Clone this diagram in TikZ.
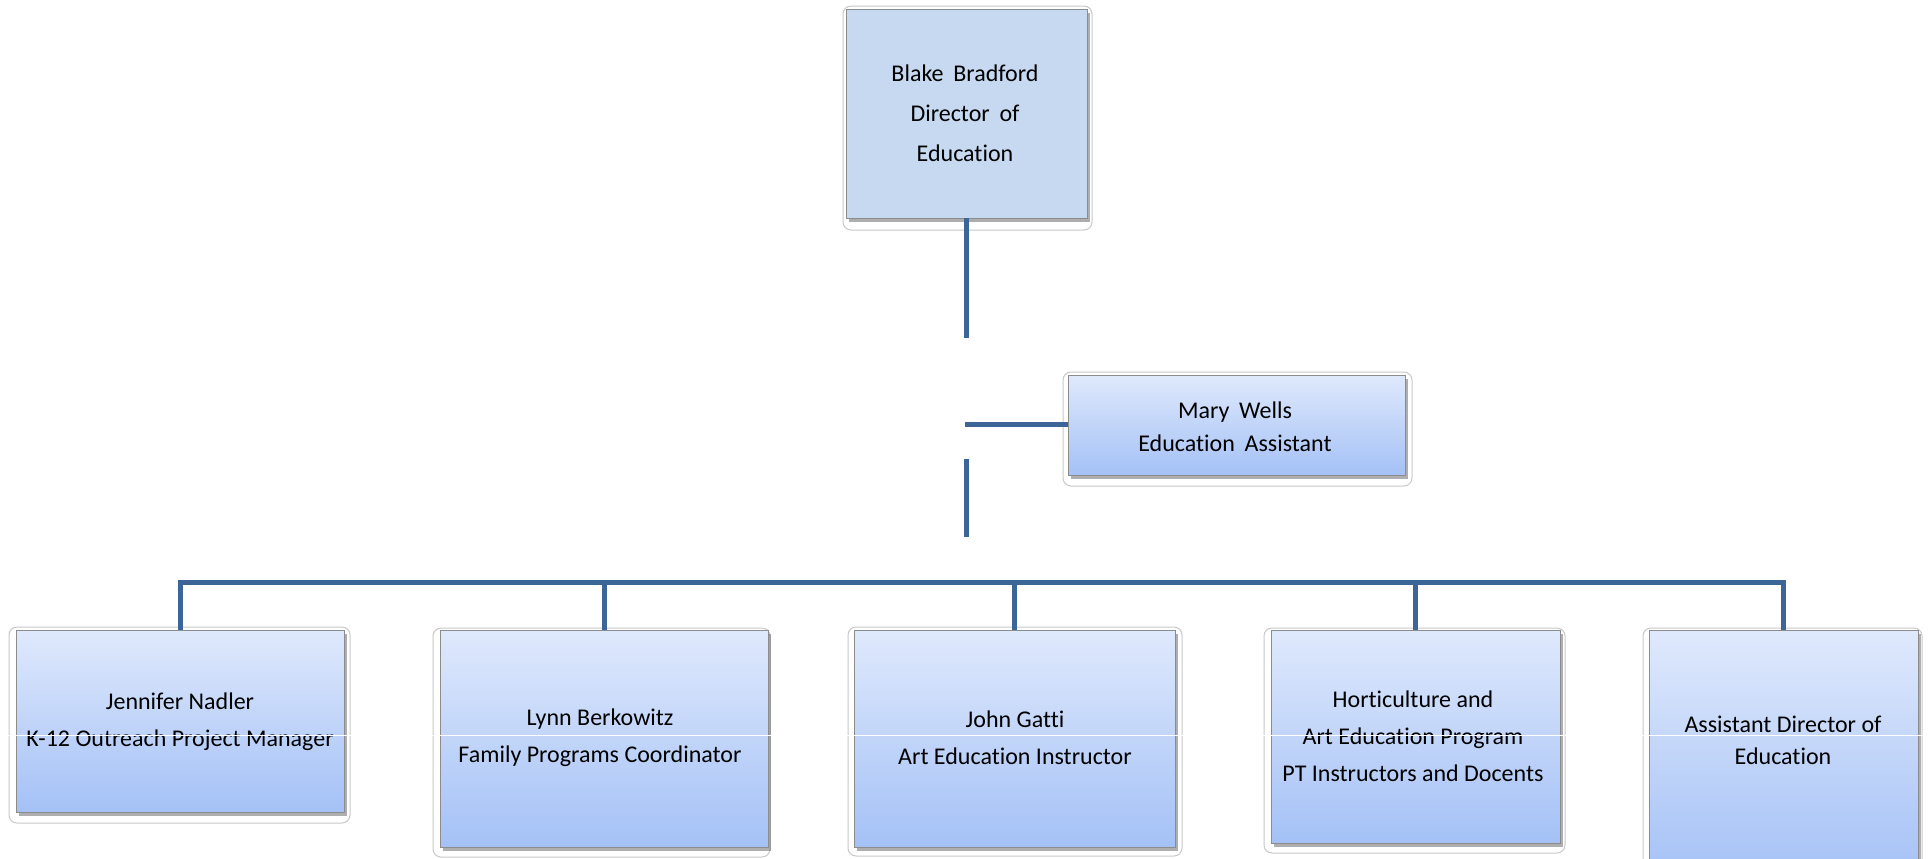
\documentclass[tikz,border=0pt]{standalone}
\usepackage{fontspec}
\setmainfont{Carlito}[Ligatures={NoCommon}]
\usetikzlibrary{shadows}
\definecolor{linec}{RGB}{60,101,152}
\definecolor{topfill}{RGB}{198,217,241}
\definecolor{gtop}{RGB}{223,233,252}
\definecolor{gbot}{RGB}{164,193,246}
\newcommand{\wsp}{\hspace{0.18em} }
\tikzset{
  conn/.style={draw=linec, line width=2.5pt},
  frame/.style={draw=black!22, line width=0.5pt, rounded corners=4pt},
  card/.style={rectangle, draw=black!45, line width=0.4pt, top color=gtop, bottom color=gbot, inner sep=0pt,
    drop shadow={shadow xshift=1.5pt, shadow yshift=-2pt, opacity=0.45, fill=black!70}},
  headcard/.style={rectangle, draw=black!45, line width=0.4pt, fill=topfill, inner sep=0pt,
    drop shadow={shadow xshift=1.5pt, shadow yshift=-2pt, opacity=0.45, fill=black!70}},
  lbl/.style={align=center, font=\fontsize{12}{18.5}\selectfont, inner sep=0pt},
}
\begin{document}
\begin{tikzpicture}[x=0.5pt,y=-0.5pt]
\useasboundingbox (0,0) rectangle (1929,858);
\clip (0,0) rectangle (1929,858);

% frames (outer light outlines)
\draw[frame] (843,6) rectangle (1092,230);
\draw[frame] (1063,372) rectangle (1412,486);
\draw[frame] (9,627) rectangle (350,823);
\draw[frame] (433,628) rectangle (770,857);
\draw[frame] (848,627) rectangle (1182,856);
\draw[frame] (1264,628) rectangle (1565,853);
\draw[frame] (1643,628) rectangle (1922,880);

% boxes
\node[headcard, minimum width=120.5pt, minimum height=104.5pt] (top) at (966.5,113.5) {};
\node[card, minimum width=168.5pt, minimum height=50pt] (mary) at (1236.5,425) {};
\node[card, minimum width=164pt, minimum height=91pt] (b1) at (180,721) {};
\node[card, minimum width=164pt, minimum height=108.5pt] (b2) at (604,738.5) {};
\node[card, minimum width=160.5pt, minimum height=108.5pt] (b3) at (1014.5,738.5) {};
\node[card, minimum width=144.5pt, minimum height=106.5pt] (b4) at (1415.5,736.5) {};
\node[card, minimum width=134.5pt, minimum height=125pt] (b5) at (1783.5,755) {};

% labels
\node[lbl, font=\fontsize{12}{20}\selectfont] (ttop) at (965,113.5) {Blake\wsp Bradford\\Director\wsp of\\Education};
\node[lbl, font=\fontsize{12}{16.5}\selectfont] (tmary) at (1235,426.5) {Mary\wsp Wells\\Education\wsp Assistant};
\node[lbl] (t1) at (180,721.5) {Jennifer Nadler\\K-12 Outreach Project Manager};
\node[lbl] (t2) at (600,738) {Lynn Berkowitz\\Family Programs Coordinator};
\node[lbl] (t3) at (1015,738) {John Gatti\\Art Education Instructor};
\node[lbl] (t4) at (1413,736.5) {Horticulture and\\Art Education Program\\PT Instructors and Docents};
\node[lbl, font=\fontsize{12}{16}\selectfont] (t5) at (1783,740) {Assistant Director of\\Education};

% white artifact line across bottom row
\draw[white, line width=0.45pt] (0,735) -- (1929,735);

% connectors
\coordinate (c1) at (966,338);
\coordinate (c2) at (965,424);
\coordinate (c3) at (966,459);
\coordinate (c4) at (966,537);
\coordinate (bar) at (966,582);
\draw[conn] (top.south -| c1) -- (c1);
\draw[conn] (c2) -- (mary.west |- c2);
\draw[conn] (c3) -- (c4);
\draw[conn] (b1.north) -- (b1.north |- bar) -- (b5.north |- bar) -- (b5.north);
\draw[conn] (b2.north |- bar) -- (b2.north);
\draw[conn] (b3.north |- bar) -- (b3.north);
\draw[conn] (b4.north |- bar) -- (b4.north);
\end{tikzpicture}
\end{document}
